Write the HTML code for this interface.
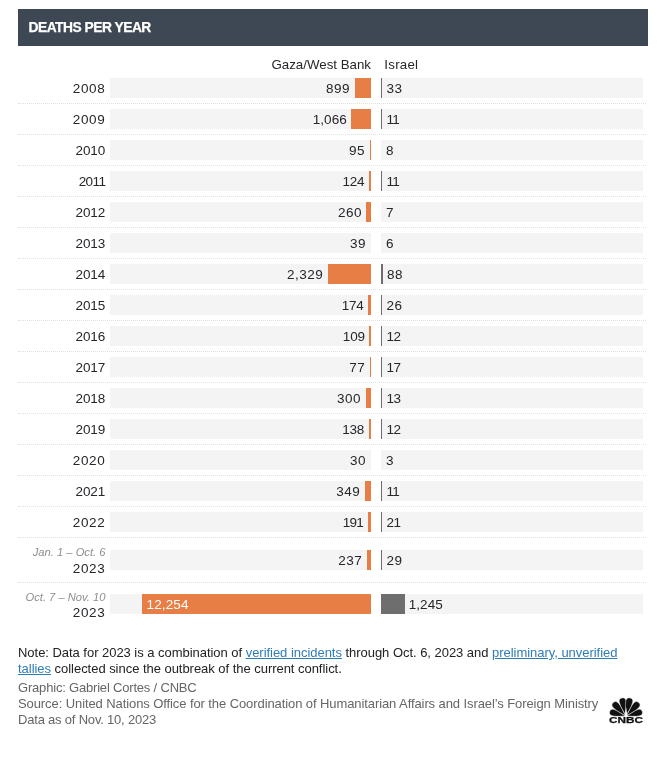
<!DOCTYPE html>
<html lang="en">
<head>
<meta charset="utf-8">
<title>Deaths per year</title>
<style>
html,body{margin:0;padding:0;background:#fff;}
body{width:662px;height:757px;position:relative;overflow:hidden;font-family:"Liberation Sans",Arial,sans-serif;color:#333;}
.abs{position:absolute;white-space:nowrap;}
.hdr{left:18px;top:9px;width:630px;height:37px;background:#3e4754;}
.hdr span{position:absolute;left:10.5px;top:0;line-height:37px;font-size:13.8px;letter-spacing:-0.5px;font-weight:bold;color:#fff;-webkit-text-stroke:0.25px #fff;}
.colh{font-size:13.3px;line-height:20px;height:20px;color:#26262b;}
.band{position:absolute;height:20px;background:#f4f4f4;}
.bar{position:absolute;height:20px;}
.g{background:#e67e45;}
.i{background:#6e6e6e;}
.yr{position:absolute;left:18px;width:87.3px;text-align:right;font-size:13.5px;letter-spacing:0.6px;margin-top:1px;line-height:20px;height:20px;color:#26262b;}
.sub{position:absolute;left:0;width:105.5px;text-align:right;font-size:11.2px;font-style:italic;line-height:14px;color:#8e8e8e;}
.val{position:absolute;font-size:13.5px;letter-spacing:0.5px;margin-top:1px;line-height:20px;height:20px;color:#26262b;}
.vr{text-align:right;}
.dot{position:absolute;left:18px;width:628px;height:0;border-top:1px dotted #e1e1e1;}
.note{position:absolute;left:18px;width:630px;font-size:13px;line-height:16px;color:#222;}
.note a{color:#2f7cb5;text-decoration:underline;}
.src{position:absolute;left:18px;font-size:13px;line-height:16px;color:#666;white-space:nowrap;}
</style>
</head>
<body>
<div class="abs hdr"><span>DEATHS PER YEAR</span></div>
<div class="abs colh" style="right:291px;top:55px;text-align:right;">Gaza/West Bank</div>
<div class="abs colh" style="left:384.3px;top:55px;letter-spacing:0.25px">Israel</div>

<div class="band" style="left:110px;top:78px;width:261px"></div>
<div class="band" style="left:381px;top:78px;width:262px"></div>
<div class="bar g" style="left:355px;top:78px;width:16px"></div>
<div class="bar i" style="left:381px;top:78px;width:1px"></div>
<div class="yr" style="top:78px">2008</div>
<div class="val vr" style="right:312.1px;top:78px">899</div>
<div class="val" style="left:386.5px;top:78px">33</div>
<div class="dot" style="top:103px"></div>
<div class="band" style="left:110px;top:109px;width:261px"></div>
<div class="band" style="left:381px;top:109px;width:262px"></div>
<div class="bar g" style="left:351px;top:109px;width:20px"></div>
<div class="bar i" style="left:381px;top:109px;width:1px"></div>
<div class="yr" style="top:109px">2009</div>
<div class="val vr" style="right:315.2px;top:109px"><span style="letter-spacing:0.06px">1,066</span></div>
<div class="val" style="left:386.5px;top:109px"><span style="letter-spacing:-0.70px">11</span></div>
<div class="dot" style="top:134px"></div>
<div class="band" style="left:110px;top:140px;width:261px"></div>
<div class="band" style="left:381px;top:140px;width:262px"></div>
<div class="bar g" style="left:370px;top:140px;width:1px"></div>
<div class="yr" style="top:140px"><span style="letter-spacing:-0.05px">2010</span></div>
<div class="val vr" style="right:297.1px;top:140px">95</div>
<div class="val" style="left:386.1px;top:140px">8</div>
<div class="dot" style="top:165px"></div>
<div class="band" style="left:110px;top:171px;width:261px"></div>
<div class="band" style="left:381px;top:171px;width:262px"></div>
<div class="bar g" style="left:369px;top:171px;width:2px"></div>
<div class="bar i" style="left:381px;top:171px;width:1px"></div>
<div class="yr" style="top:171px"><span style="letter-spacing:-0.60px">2011</span></div>
<div class="val vr" style="right:297.6px;top:171px"><span style="letter-spacing:-0.23px">124</span></div>
<div class="val" style="left:386.5px;top:171px"><span style="letter-spacing:-0.70px">11</span></div>
<div class="dot" style="top:196px"></div>
<div class="band" style="left:110px;top:202px;width:261px"></div>
<div class="band" style="left:381px;top:202px;width:262px"></div>
<div class="bar g" style="left:366px;top:202px;width:5px"></div>
<div class="yr" style="top:202px"><span style="letter-spacing:-0.05px">2012</span></div>
<div class="val vr" style="right:300.1px;top:202px">260</div>
<div class="val" style="left:386.1px;top:202px">7</div>
<div class="dot" style="top:227px"></div>
<div class="band" style="left:110px;top:233px;width:261px"></div>
<div class="band" style="left:381px;top:233px;width:262px"></div>
<div class="yr" style="top:233px"><span style="letter-spacing:-0.05px">2013</span></div>
<div class="val vr" style="right:296.0px;top:233px">39</div>
<div class="val" style="left:386.1px;top:233px">6</div>
<div class="dot" style="top:258px"></div>
<div class="band" style="left:110px;top:264px;width:261px"></div>
<div class="band" style="left:381px;top:264px;width:262px"></div>
<div class="bar g" style="left:328px;top:264px;width:43px"></div>
<div class="bar i" style="left:381px;top:264px;width:2px"></div>
<div class="yr" style="top:264px"><span style="letter-spacing:-0.05px">2014</span></div>
<div class="val vr" style="right:338.7px;top:264px">2,329</div>
<div class="val" style="left:387.1px;top:264px">88</div>
<div class="dot" style="top:289px"></div>
<div class="band" style="left:110px;top:295px;width:261px"></div>
<div class="band" style="left:381px;top:295px;width:262px"></div>
<div class="bar g" style="left:368px;top:295px;width:3px"></div>
<div class="bar i" style="left:381px;top:295px;width:1px"></div>
<div class="yr" style="top:295px"><span style="letter-spacing:-0.05px">2015</span></div>
<div class="val vr" style="right:298.5px;top:295px"><span style="letter-spacing:-0.23px">174</span></div>
<div class="val" style="left:386.5px;top:295px">26</div>
<div class="dot" style="top:320px"></div>
<div class="band" style="left:110px;top:326px;width:261px"></div>
<div class="band" style="left:381px;top:326px;width:262px"></div>
<div class="bar g" style="left:369px;top:326px;width:2px"></div>
<div class="bar i" style="left:381px;top:326px;width:1px"></div>
<div class="yr" style="top:326px"><span style="letter-spacing:-0.05px">2016</span></div>
<div class="val vr" style="right:297.3px;top:326px"><span style="letter-spacing:-0.23px">109</span></div>
<div class="val" style="left:386.5px;top:326px"><span style="letter-spacing:-0.60px">12</span></div>
<div class="dot" style="top:351px"></div>
<div class="band" style="left:110px;top:357px;width:261px"></div>
<div class="band" style="left:381px;top:357px;width:262px"></div>
<div class="bar g" style="left:370px;top:357px;width:1px"></div>
<div class="bar i" style="left:381px;top:357px;width:1px"></div>
<div class="yr" style="top:357px"><span style="letter-spacing:-0.05px">2017</span></div>
<div class="val vr" style="right:296.7px;top:357px">77</div>
<div class="val" style="left:386.5px;top:357px"><span style="letter-spacing:-0.60px">17</span></div>
<div class="dot" style="top:382px"></div>
<div class="band" style="left:110px;top:388px;width:261px"></div>
<div class="band" style="left:381px;top:388px;width:262px"></div>
<div class="bar g" style="left:366px;top:388px;width:5px"></div>
<div class="bar i" style="left:381px;top:388px;width:1px"></div>
<div class="yr" style="top:388px"><span style="letter-spacing:-0.05px">2018</span></div>
<div class="val vr" style="right:300.9px;top:388px">300</div>
<div class="val" style="left:386.5px;top:388px"><span style="letter-spacing:-0.60px">13</span></div>
<div class="dot" style="top:413px"></div>
<div class="band" style="left:110px;top:419px;width:261px"></div>
<div class="band" style="left:381px;top:419px;width:262px"></div>
<div class="bar g" style="left:369px;top:419px;width:2px"></div>
<div class="bar i" style="left:381px;top:419px;width:1px"></div>
<div class="yr" style="top:419px"><span style="letter-spacing:-0.05px">2019</span></div>
<div class="val vr" style="right:297.9px;top:419px"><span style="letter-spacing:-0.23px">138</span></div>
<div class="val" style="left:386.5px;top:419px"><span style="letter-spacing:-0.60px">12</span></div>
<div class="dot" style="top:444px"></div>
<div class="band" style="left:110px;top:450px;width:261px"></div>
<div class="band" style="left:381px;top:450px;width:262px"></div>
<div class="yr" style="top:450px">2020</div>
<div class="val vr" style="right:295.9px;top:450px">30</div>
<div class="val" style="left:386.1px;top:450px">3</div>
<div class="dot" style="top:475px"></div>
<div class="band" style="left:110px;top:481px;width:261px"></div>
<div class="band" style="left:381px;top:481px;width:262px"></div>
<div class="bar g" style="left:365px;top:481px;width:6px"></div>
<div class="bar i" style="left:381px;top:481px;width:1px"></div>
<div class="yr" style="top:481px"><span style="letter-spacing:-0.05px">2021</span></div>
<div class="val vr" style="right:301.8px;top:481px">349</div>
<div class="val" style="left:386.5px;top:481px"><span style="letter-spacing:-0.70px">11</span></div>
<div class="dot" style="top:506px"></div>
<div class="band" style="left:110px;top:512px;width:261px"></div>
<div class="band" style="left:381px;top:512px;width:262px"></div>
<div class="bar g" style="left:368px;top:512px;width:3px"></div>
<div class="bar i" style="left:381px;top:512px;width:1px"></div>
<div class="yr" style="top:512px">2022</div>
<div class="val vr" style="right:298.9px;top:512px"><span style="letter-spacing:-0.70px">191</span></div>
<div class="val" style="left:386.5px;top:512px"><span style="letter-spacing:-0.60px">21</span></div>
<div class="dot" style="top:537px"></div>
<div class="band" style="left:110px;top:550px;width:261px"></div>
<div class="band" style="left:381px;top:550px;width:262px"></div>
<div class="bar g" style="left:367px;top:550px;width:4px"></div>
<div class="bar i" style="left:381px;top:550px;width:1px"></div>
<div class="sub" style="top:545px">Jan. 1 – Oct. 6</div>
<div class="yr" style="top:558px">2023</div>
<div class="val vr" style="right:299.7px;top:550px">237</div>
<div class="val" style="left:386.5px;top:550px">29</div>
<div class="dot" style="top:582px"></div>
<div class="band" style="left:110px;top:594px;width:261px"></div>
<div class="band" style="left:381px;top:594px;width:262px"></div>
<div class="bar g" style="left:142px;top:594px;width:229px"></div>
<div class="bar i" style="left:381px;top:594px;width:24px"></div>
<div class="sub" style="top:590px">Oct. 7 – Nov. 10</div>
<div class="yr" style="top:602px">2023</div>
<div class="val" style="left:146.5px;top:594px;color:#fff"><span style="letter-spacing:0.13px">12,254</span></div>
<div class="val" style="left:408.7px;top:594px"><span style="letter-spacing:0.06px">1,245</span></div>

<div class="note" style="top:645px;letter-spacing:-0.035px">Note: Data for 2023 is a combination of <a>verified incidents</a> through Oct. 6, 2023 and <a>preliminary, unverified tallies</a> collected since the outbreak of the current conflict.</div>
<div class="src" style="top:680px;letter-spacing:-0.19px">Graphic: Gabriel Cortes / CNBC</div>
<div class="src" style="top:696px;letter-spacing:-0.09px">Source: United Nations Office for the Coordination of Humanitarian Affairs and Israel’s Foreign Ministry</div>
<div class="src" style="top:712px;letter-spacing:-0.2px">Data as of Nov. 10, 2023</div>
<svg class="abs" style="left:606px;top:694px" width="40" height="32" viewBox="606 694 40 32">
<g fill="#111" stroke="#fff" stroke-width="0.45" transform="translate(626,716.3)">
<path d="M0,0 C-0.79,-4.76 -3.30,-8.49 -3.30,-13.70 A3.30,3.30 0 1 1 3.30,-13.70 C3.30,-8.49 0.79,-4.76 0,0 Z" transform="rotate(-74)"/>
<path d="M0,0 C-0.79,-4.76 -3.30,-8.49 -3.30,-13.70 A3.30,3.30 0 1 1 3.30,-13.70 C3.30,-8.49 0.79,-4.76 0,0 Z" transform="rotate(74)"/>
<path d="M0,0 C-0.84,-5.26 -3.50,-9.49 -3.50,-15.30 A3.50,3.50 0 1 1 3.50,-15.30 C3.50,-9.49 0.84,-5.26 0,0 Z" transform="rotate(-43)"/>
<path d="M0,0 C-0.84,-5.26 -3.50,-9.49 -3.50,-15.30 A3.50,3.50 0 1 1 3.50,-15.30 C3.50,-9.49 0.84,-5.26 0,0 Z" transform="rotate(43)"/>
<path d="M0,0 C-0.84,-5.26 -3.50,-9.49 -3.50,-15.30 A3.50,3.50 0 1 1 3.50,-15.30 C3.50,-9.49 0.84,-5.26 0,0 Z" transform="rotate(-12.5)"/>
<path d="M0,0 C-0.84,-5.26 -3.50,-9.49 -3.50,-15.30 A3.50,3.50 0 1 1 3.50,-15.30 C3.50,-9.49 0.84,-5.26 0,0 Z" transform="rotate(12.5)"/>
<path d="M0,-9.5 L-1.5,0.3 L1.5,0.3 Z" fill="#fff" stroke="none"/>
</g>
<text x="626" y="723.1" text-anchor="middle" font-family="Liberation Sans, Arial, sans-serif" font-weight="bold" font-size="8.4" fill="#111" stroke="#111" stroke-width="0.25" textLength="34" lengthAdjust="spacingAndGlyphs">CNBC</text>
</svg>
</body>
</html>
